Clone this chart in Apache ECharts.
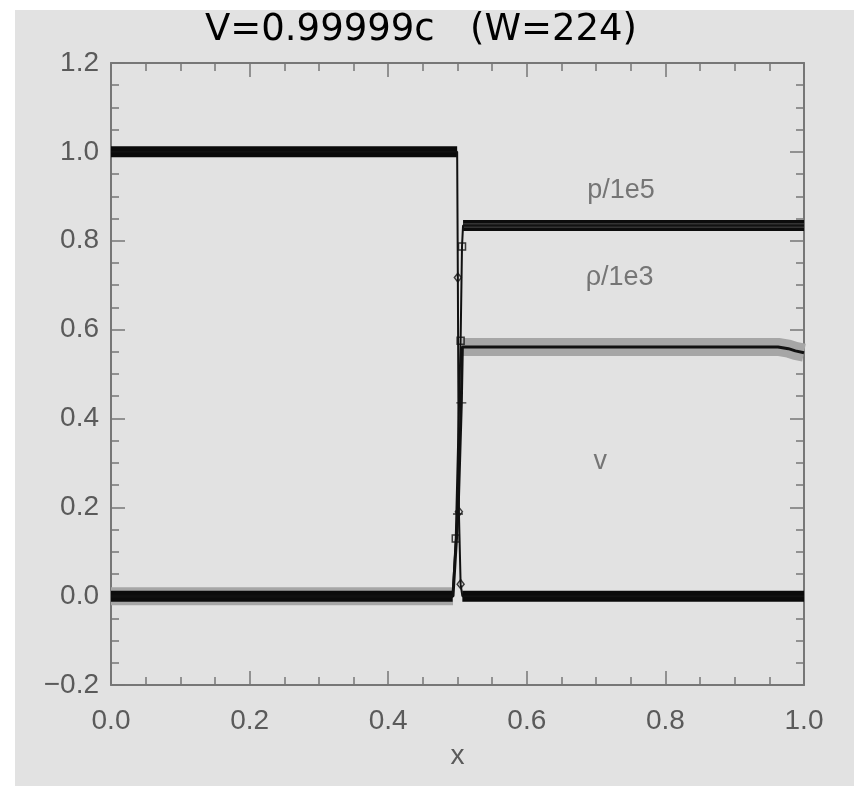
<!DOCTYPE html>
<html>
<head>
<meta charset="utf-8">
<script src="https://cdn.jsdelivr.net/npm/echarts@6/dist/echarts.min.js"></script>
<style>
  html, body { margin: 0; padding: 0; background: #ffffff; }
  #wrap { position: relative; width: 854px; height: 786px; overflow: hidden; }
  #panel { position: absolute; left: 15px; top: 10px; right: 0; bottom: 0; background: #e2e2e2; }
  #chart { position: absolute; left: 0; top: 0; width: 854px; height: 786px; }
</style>
</head>
<body>
<div id="wrap"><div id="panel"></div><div id="chart"></div></div>
<script>
// Relativistic wall shock: inflow at V = 0.99999c (Lorentz factor W = 224).
// Profiles of pressure/1e5, density/1e3 and velocity against x.

// Velocity: upstream plateau, cells inside the shock, downstream plateau
const velocityUpstream   = [[0.0, 1.0], [0.4995, 1.0]];
const velocityShock      = [[0.5005, 0.717], [0.502, 0.19], [0.5045, 0.027]];
const velocityDownstream = [[0.507, 0.0], [1.0, 0.0]];

// Pressure / 1e5
const pressureUpstream   = [[0.0, 0.0], [0.493, 0.0]];
const pressureShock      = [[0.4975, 0.13], [0.5045, 0.575], [0.5065, 0.787]];
const pressureDownstream = [[0.508, 0.834], [1.0, 0.834]];

// Density / 1e3 (slight dip next to the wall at x = 1)
const densityUpstream    = [[0.0, 0.0], [0.4935, 0.0]];
const densityShock       = [[0.5007, 0.185], [0.5055, 0.435]];
const densityDownstream  = [[0.507, 0.561], [0.9625, 0.561], [0.9775, 0.557], [0.9875, 0.552], [1.0, 0.548]];

// Curve names written next to the curves
const curveNames = ['p/1e5', '\u03c1/1e3', 'v'];

// Axis ranges
const xRange = { min: 0.0, max: 1.0, step: 0.2 };
const yRange = { min: -0.2, max: 1.2, step: 0.2 };

// Where the curve names sit, in data coordinates
const nameAnchors = [[0.736, 0.913], [0.734, 0.717], [0.706, 0.302]];

const chart = echarts.init(document.getElementById('chart'), null, { renderer: 'canvas' });

const axisGray = '#777777';
const labelGray = '#5a5a5a';
const labelFont = 'Liberation Sans, Arial, sans-serif';

function band(data, width, color) {
  return {
    type: 'line', data: data, showSymbol: false, symbol: 'none',
    lineStyle: { width: width, color: color, cap: 'butt' },
    silent: true, animation: false, z: 2
  };
}
function trace(data, width) {
  return {
    type: 'line', data: data, showSymbol: false, symbol: 'none',
    lineStyle: { width: width, color: '#111111' },
    silent: true, animation: false, z: 3
  };
}
function marks(data, symbol, size, filled) {
  return {
    type: 'scatter', data: data, symbol: symbol, symbolSize: size,
    itemStyle: filled ? { color: '#111111' }
                      : { color: 'rgba(0,0,0,0)', borderColor: '#111111', borderWidth: 1.5 },
    silent: true, animation: false, z: 4
  };
}
const plusPath = 'path://M4.3,0H5.7V4.3H10V5.7H5.7V10H4.3V5.7H0V4.3H4.3Z';

function xAxisDef(pos, showLabels) {
  return {
    type: 'value', position: pos, min: xRange.min, max: xRange.max, interval: xRange.step,
    axisLine: { show: true, onZero: false, lineStyle: { color: axisGray, width: 2 } },
    axisTick: { show: true, inside: true, length: 14, lineStyle: { color: axisGray, width: 1.5 } },
    minorTick: { show: true, splitNumber: 4, length: 8, lineStyle: { color: axisGray, width: 1.5 } },
    splitLine: { show: false },
    axisLabel: {
      show: showLabels, margin: 22, fontSize: 28, color: labelGray, fontFamily: labelFont,
      formatter: v => v.toFixed(1)
    },
    name: showLabels ? 'x' : '', nameLocation: 'middle', nameGap: 57,
    nameTextStyle: { fontSize: 28, color: labelGray, fontFamily: labelFont }
  };
}
function yAxisDef(pos, showLabels) {
  return {
    type: 'value', position: pos, min: yRange.min, max: yRange.max, interval: yRange.step,
    axisLine: { show: true, onZero: false, lineStyle: { color: axisGray, width: 2 } },
    axisTick: { show: true, inside: true, length: 14, lineStyle: { color: axisGray, width: 1.5 } },
    minorTick: { show: true, splitNumber: 4, length: 8, lineStyle: { color: axisGray, width: 1.5 } },
    splitLine: { show: false },
    axisLabel: {
      show: showLabels, margin: 12, fontSize: 28, color: labelGray, fontFamily: labelFont,
      formatter: v => (v < 0 ? '\u2212' : '') + Math.abs(v).toFixed(1)
    }
  };
}

const nameSeries = {
  type: 'scatter', symbolSize: 0, silent: true, animation: false, z: 5,
  data: nameAnchors.map((c, i) => ({ value: c, name: curveNames[i] })),
  label: {
    show: true, position: 'inside', formatter: p => p.name,
    fontSize: 27, color: labelGray, fontFamily: labelFont
  }
};

chart.setOption({
  animation: false,
  title: {
    text: 'V=0.99999c   (W=224)', left: 200, top: 7,
    textStyle: { fontFamily: 'DejaVu Sans', fontSize: 37, fontWeight: 'normal', color: '#000000' }
  },
  grid: { left: 111, right: 50, top: 63, bottom: 101, containLabel: false },
  xAxis: [xAxisDef('bottom', true), xAxisDef('top', false)],
  yAxis: [yAxisDef('left', true), yAxisDef('right', false)],
  series: [
    // thick bands formed by the densely packed cell markers
    band(densityUpstream, 18, '#a6a6a6'),
    band(densityDownstream, 18, '#a6a6a6'),
    band(pressureUpstream, 11, '#0c0c0c'),
    band(pressureDownstream, 11, '#0c0c0c'),
    band(pressureDownstream, 5, '#333333'),
    band(velocityUpstream, 11, '#0a0a0a'),
    band(velocityDownstream, 11, '#0a0a0a'),
    // connecting lines through every cell
    trace(densityUpstream.concat(densityShock, densityDownstream), 3),
    trace(pressureUpstream.concat(pressureShock, pressureDownstream), 2),
    trace(velocityUpstream.concat(velocityShock, velocityDownstream), 2),
    // isolated cells inside the shock
    marks(velocityShock, 'diamond', [7, 9], false),
    marks(pressureShock, 'rect', 7, false),
    marks(densityShock, plusPath, 10, true),
    nameSeries
  ]
});
</script>
</body>
</html>
